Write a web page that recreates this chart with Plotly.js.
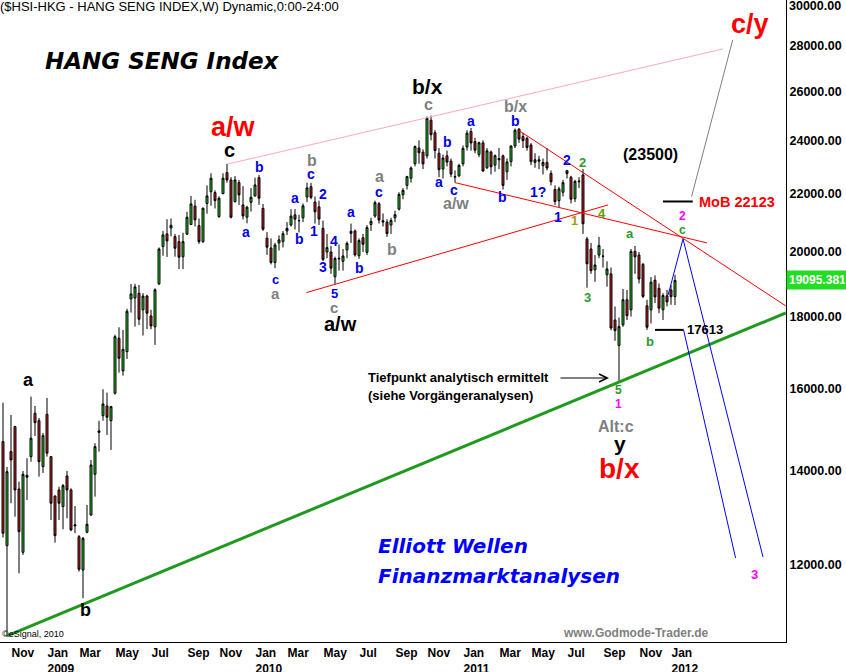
<!DOCTYPE html>
<html><head><meta charset="utf-8">
<script src="https://cdn.plot.ly/plotly-3.0.1.min.js"></script>
<style>html,body{margin:0;padding:0;background:#fff;}#chart{width:846px;height:672px;}</style>
</head><body><div id="chart"></div>
<script>
// ---- weekly bars (Monday of each week) ----
const weeks = [
"2008-10-20","2008-10-27","2008-11-03","2008-11-10","2008-11-17","2008-11-24","2008-12-01","2008-12-08","2008-12-15","2008-12-22","2008-12-29",
"2009-01-05","2009-01-12","2009-01-19","2009-01-26","2009-02-02","2009-02-09","2009-02-16","2009-02-23","2009-03-02","2009-03-09","2009-03-16","2009-03-23","2009-03-30","2009-04-06","2009-04-13","2009-04-20","2009-04-27","2009-05-04","2009-05-11","2009-05-18","2009-05-25","2009-06-01","2009-06-08","2009-06-15","2009-06-22","2009-06-29","2009-07-06","2009-07-13","2009-07-20","2009-07-27","2009-08-03","2009-08-10","2009-08-17","2009-08-24","2009-08-31","2009-09-07","2009-09-14","2009-09-21","2009-09-28","2009-10-05","2009-10-12","2009-10-19","2009-10-26","2009-11-02","2009-11-09","2009-11-16","2009-11-23","2009-11-30","2009-12-07","2009-12-14","2009-12-21","2009-12-28",
"2010-01-04","2010-01-11","2010-01-18","2010-01-25","2010-02-01","2010-02-08","2010-02-15","2010-02-22","2010-03-01","2010-03-08","2010-03-15","2010-03-22","2010-03-29","2010-04-05","2010-04-12","2010-04-19","2010-04-26","2010-05-03","2010-05-10","2010-05-17","2010-05-24","2010-05-31","2010-06-07","2010-06-14","2010-06-21","2010-06-28","2010-07-05","2010-07-12","2010-07-19","2010-07-26","2010-08-02","2010-08-09","2010-08-16","2010-08-23","2010-08-30","2010-09-06","2010-09-13","2010-09-20","2010-09-27","2010-10-04","2010-10-11","2010-10-18","2010-10-25","2010-11-01","2010-11-08","2010-11-15","2010-11-22","2010-11-29","2010-12-06","2010-12-13","2010-12-20","2010-12-27",
"2011-01-03","2011-01-10","2011-01-17","2011-01-24","2011-01-31","2011-02-07","2011-02-14","2011-02-21","2011-02-28","2011-03-07","2011-03-14","2011-03-21","2011-03-28","2011-04-04","2011-04-11","2011-04-18","2011-04-25","2011-05-02","2011-05-09","2011-05-16","2011-05-23","2011-05-30","2011-06-06","2011-06-13","2011-06-20","2011-06-27","2011-07-04","2011-07-11","2011-07-18","2011-07-25","2011-08-01","2011-08-08","2011-08-15","2011-08-22","2011-08-29","2011-09-05","2011-09-12","2011-09-19","2011-09-26","2011-10-03","2011-10-10","2011-10-17","2011-10-24","2011-10-31","2011-11-07","2011-11-14","2011-11-21","2011-11-28","2011-12-05","2011-12-12","2011-12-19","2011-12-26",
"2012-01-02","2012-01-09"];

const openPx = [
14676,12384,14439,15040,13585,12251,13890,14321,15372,15187,14089,
15347,14321,13430,13563,13199,13877,13563,12790,12567,11902,12658,13021,13915,14900,15312,15557,15187,15883,17375,16471,16999,18526,18556,18699,18200,18615,18018,17700,18990,20179,20600,20800,20510,20342,19846,20590,20920,21560,20880,20342,21650,22070,22038,21190,22000,22768,22499,21717,22400,21599,21170,21690,
21915,22580,21475,20456,20130,19660,20300,20350,20700,20900,21250,21050,21150,21880,22250,21700,21530,20790,20000,20000,19210,19800,19700,20070,20620,20700,19880,20470,19990,20920,21210,21640,21050,21000,20900,21150,21450,21960,22300,22560,23100,23700,23540,23400,24800,24300,23500,22900,23400,23200,22600,22650,
23100,23740,24350,23950,23450,23900,22950,23550,23050,23300,23400,22800,23180,23780,24450,24150,24080,23820,23150,23250,23030,23150,22740,22150,21750,22050,22840,22600,21820,22430,22680,20430,20100,19430,19900,19860,19270,19300,17900,17170,17760,18500,18200,20020,19900,19600,18320,18200,19100,18850,18200,18620,
18800,18600];

const highPx = [
15641,14080,15330,15060,13748,13990,14283,15795,15557,15254,14886,
15761,14330,13440,13637,13695,13991,13600,13213,12600,12560,13235,14243,14638,15187,15987,15898,15560,17474,17689,17612,18230,18985,18990,18954,18700,18650,18200,18850,20150,20703,21100,21126,20600,20566,20640,21360,21920,21779,21126,21500,22300,22746,22120,21900,22746,23094,22600,22640,22499,22270,21570,22200,
22580,22683,21630,20660,20450,20300,20550,20700,21000,21450,21450,21250,21650,22400,22388,21900,21750,21050,20600,20200,19850,20250,20100,20350,20950,20750,20450,20600,20900,21150,21750,21700,21300,21100,21150,21400,22050,22200,22650,23000,23800,24000,23650,24950,24988,24400,23700,23450,23600,23300,22850,23100,
23800,24400,24490,24100,23950,24000,23700,23600,23450,23700,23450,23300,23800,24468,24460,24300,24150,23900,23500,23400,23300,23700,22850,22300,22250,22500,22870,22650,22500,22600,22900,20500,20300,19900,20500,20100,19700,19500,18300,17970,18830,18800,20100,20200,20000,19650,18500,19200,19250,19000,18700,18800,
18950,19270];

const lowPx = [
12550,10676,13272,12984,11838,12200,13344,14204,14813,13861,13945,
14321,12914,12445,12914,12720,12951,12680,12637,11870,11365,12637,13000,13416,14439,15187,14837,14478,15850,16426,16345,16797,18117,17707,17756,17452,17640,17630,17186,18950,19875,19840,20520,19850,19450,19450,20590,20920,20850,20270,20300,21290,21570,21475,21150,21980,22400,21126,21680,21599,21090,20960,21365,
21900,21599,20700,19906,19600,19480,20050,20150,20560,20850,20750,20650,21000,21700,21800,20950,20900,19700,19800,19300,18971,19400,19400,19800,20300,19850,19780,20000,19900,20700,21150,20950,20850,20500,20600,21000,21400,21800,22150,22400,23000,23100,22900,23300,24000,23300,22600,22550,23000,22600,22400,22600,
23000,23600,23600,23500,23350,22800,22900,22700,22800,22900,22150,22500,23000,23700,23900,23700,23600,23050,22950,22900,22700,22850,22300,21600,21508,21900,22550,21650,21700,22200,20600,18868,19300,19050,19800,19500,18900,17600,17300,16170,17700,17900,18000,19300,19000,18550,17613,17800,18400,18100,17900,18300,
18350,18340];

const closePx = [
12637,13974,14244,13563,12671,13915,13847,14758,15138,14204,14821,
14401,13272,12588,13272,13659,13563,12706,12811,11916,12535,12824,14128,14556,14934,15607,15272,15539,17420,16817,17065,18157,18678,18893,17922,18612,18100,17727,18805,20100,20568,20366,20893,20125,19831,20342,21169,21635,21077,20342,21484,21919,22561,21752,21838,22561,22499,21169,22499,21955,21215,21518,21873,
22316,21838,20760,20158,19665,20233,20402,20608,20788,21209,21103,21053,21568,22208,21866,21357,21109,19760,20145,19480,19790,19780,19872,20286,20690,19905,20378,20255,20815,21029,21679,21071,21005,20612,21056,21257,21971,22119,22618,22944,23758,23518,23096,24876,24222,23605,22877,23320,23163,22714,22622,23035,
23686,24283,23898,23617,23908,22829,23595,22987,23408,23249,22300,23170,23780,24400,24050,23990,23720,23180,23250,23199,23150,22940,22430,21720,22171,22398,22730,21804,22445,22450,20947,19620,19400,19582,20212,19867,19455,17668,17592,17707,18502,18025,20019,19843,19137,18600,17689,19040,18586,18250,18629,18434,
18593,19095.381];

const lastPrice = 19095.381;

// ---- analysis lines (date, index value) ----
const greenTrendX = ["2008-10-27","2012-07-21"],  greenTrendY = [10690,18108];
const pinkTrendX  = ["2009-11-18","2012-04-02"],  pinkTrendY  = [23093,27864];
const redUpperX   = ["2011-04-12","2012-07-21"],  redUpperY   = [24373,18314];
const redMidX     = ["2010-12-20","2012-03-05"],  redMidY     = [22400,20300];
const redRiseX    = ["2010-04-04","2011-09-14"],  redRiseY    = [18718,21599];
const mobLineX    = ["2011-12-19","2012-02-09"],  mobLineY    = [21720,21720];
const targetX     = ["2012-02-07","2012-04-19"],  targetY     = [21894,28277];
const lowLineX    = ["2011-12-05","2012-01-24"],  lowLineY    = [17613,17613];
const bluePathX   = ["2011-12-28","2012-01-23","2012-06-11"], bluePathY = [18647,20433,12157];
const blueChanX   = ["2012-01-24","2012-04-24"],  blueChanY   = [17613,12138];

// ---- axis ticks ----
const yTicks = [12000,14000,16000,18000,20000,22000,24000,26000,28000];
const yTopTick = 30000;
const yTickText = yTicks.map(v => "<b>" + v.toFixed(2) + "</b>");
const xTicks = ["2008-11-03","2009-01-05","2009-03-02","2009-05-04","2009-07-06","2009-09-07","2009-11-02","2010-01-04","2010-03-01","2010-05-03","2010-07-05","2010-09-06","2010-11-01","2011-01-03","2011-03-07","2011-05-02","2011-07-04","2011-09-05","2011-11-07","2012-01-02"];
const xTickText = ["Nov","Jan<br>2009","Mar","May","Jul","Sep","Nov","Jan<br>2010","Mar","May","Jul","Sep","Nov","Jan<br>2011","Mar","May","Jul","Sep","Nov","Jan<br>2012"].map(t => "<b>" + t.replace("<br>", "</b><br><b>") + "</b>");

const W = 786, H = 642;
const AR = "Liberation Sans, Arial, sans-serif";
const DV = "DejaVu Sans, Verdana, sans-serif";
function A(text, px, py, color, size, opt) {
  return Object.assign({
    text: text, xref: "paper", yref: "paper", x: px / W, y: 1 - py / H,
    xanchor: "center", yanchor: "middle", showarrow: false,
    font: { family: AR, size: size, color: color }
  }, opt || {});
}
const BL = "#0000ee", GR = "#808080", GN = "#2a9a2a", MG = "#ff00ff", RD = "#ff0000", BK = "#000000";
const b = t => "<b>" + t + "</b>";

const annotations = [
  A("($HSI-HKG - HANG SENG INDEX,W) Dynamic,0:00-24:00", 0, 7, BK, 13, { xanchor: "left", xshift: -2 }),
  A("<b><i>HANG SENG Index</i></b>", 162, 61, BK, 23, { font: { family: DV, size: 23, color: BK } }),
  A(b("a/w"), 233, 127, RD, 27),
  A(b("c"), 229, 150, BK, 20),
  A(b("b/x"), 427, 87, BK, 21),
  A(b("c/y"), 750, 24, RD, 27),
  A(b("(23500)"), 650, 154, BK, 16),
  A(b("MoB 22123"), 737, 202, RD, 14.5),
  A(b("17613"), 705, 330, BK, 13),
  A(b("a/w"), 340, 324, BK, 20),
  A(b("Alt:c"), 616, 426, GR, 16),
  A(b("y"), 620, 443, BK, 21),
  A(b("b/x"), 619, 468, RD, 28),
  A(b("a"), 28, 380, BK, 18),
  A(b("b"), 85, 610, BK, 18),
  A(b("Tiefpunkt analytisch ermittelt"), 366, 378, BK, 13, { xanchor: "left" }),
  A(b("(siehe Vorgängeranalysen)"), 366, 395, BK, 13, { xanchor: "left" }),
  A("<b><i>Elliott Wellen</i></b>", 376, 546, "#0000ff", 20, { xanchor: "left", font: { family: DV, size: 20, color: "#0000ff" } }),
  A("<b><i>Finanzmarktanalysen</i></b>", 376, 576, "#0000ff", 20, { xanchor: "left", font: { family: DV, size: 20, color: "#0000ff" } }),
  A(b("www.Godmode-Trader.de"), 711, 633, GR, 12, { xanchor: "right" }),
  A("©eSignal, 2010", 0, 634, BK, 9, { xanchor: "left" }),
  // blue wave labels
  A(b("b"), 259, 167, BL, 14), A(b("a"), 246, 232, BL, 14), A(b("c"), 311, 174, BL, 14),
  A(b("a"), 295, 198, BL, 14), A(b("2"), 323, 194, BL, 14), A(b("b"), 299, 239, BL, 14),
  A(b("1"), 314, 231, BL, 14), A(b("c"), 275, 279, BL, 13), A(b("4"), 334, 241, BL, 14),
  A(b("3"), 323, 267, BL, 14), A(b("a"), 351, 212, BL, 14), A(b("b"), 359, 268, BL, 14),
  A(b("5"), 334, 293, BL, 13), A(b("c"), 379, 192, BL, 14), A(b("a"), 471, 121, BL, 14),
  A(b("b"), 447, 142, BL, 14), A(b("a"), 439, 182, BL, 14), A(b("c"), 454, 190, BL, 14),
  A(b("b"), 515, 121, BL, 14), A(b("2"), 567, 160, BL, 14), A(b("1?"), 538, 192, BL, 14),
  A(b("b"), 502, 197, BL, 14), A(b("1"), 558, 217, BL, 14),
  // grey labels
  A(b("b"), 312, 161, GR, 16), A(b("a"), 275, 293, GR, 15), A(b("c"), 334, 307, GR, 15),
  A(b("a"), 379, 177, GR, 16), A(b("b"), 392, 249, GR, 16), A(b("c"), 428, 105, GR, 16),
  A(b("a/w"), 456, 203, GR, 16), A(b("b/x"), 515, 106, GR, 16),
  // green labels
  A(b("2"), 582, 163, GN, 13), A(b("1"), 574, 220, "#a0a000", 13), A(b("4"), 602, 213, "#5aa000", 13),
  A(b("3"), 587, 297, GN, 13), A(b("a"), 630, 233, GN, 13), A(b("b"), 650, 341, GN, 13),
  A(b("5"), 618, 390, GN, 12), A(b("c"), 682, 230, GN, 12),
  // magenta labels
  A(b("2"), 682, 216, MG, 12), A(b("1"), 618, 404, MG, 12), A(b("3"), 754, 574, MG, 13),
  // arrow
  { xref: "paper", yref: "paper", x: 609 / W, y: 1 - 378 / H, ax: -50, ay: 0, axref: "pixel", ayref: "pixel",
    text: "", showarrow: true, arrowhead: 5, arrowsize: 1.6, arrowwidth: 1, arrowcolor: BK },
  // top y tick label (would be clipped as an axis tick)
  { xref: "paper", yref: "paper", x: 1, y: 1 - 6 / H, xanchor: "left", yanchor: "middle", xshift: 1,
    text: b(yTopTick.toFixed(2)), showarrow: false, font: { family: AR, size: 12.5, color: BK } },
  // last price box
  { xref: "paper", yref: "y", x: 1, y: Math.log10(lastPrice), xanchor: "left", yanchor: "middle",
    text: b(lastPrice.toFixed(3)), showarrow: false, bgcolor: "#22dd22", borderpad: 2, width: 56, align: "left",
    font: { family: AR, size: 12, color: "#ffffff" } }
];

function line(x, y, color, width) {
  return { type: "scatter", mode: "lines", x: x, y: y, line: { color: color, width: width }, hoverinfo: "skip", showlegend: false };
}

const traces = [
  { type: "candlestick", x: weeks, open: openPx, high: highPx, low: lowPx, close: closePx,
    increasing: { line: { color: "#000000", width: 1 }, fillcolor: "#22cc22" },
    decreasing: { line: { color: "#000000", width: 1 }, fillcolor: "#cc2222" },
    whiskerwidth: 0, showlegend: false, hoverinfo: "skip" },
  line(pinkTrendX, pinkTrendY, "#ffa6c9", 1),
  line(greenTrendX, greenTrendY, "#1f9a1f", 3),
  line(redUpperX, redUpperY, "#ff0000", 1),
  line(redMidX, redMidY, "#ff0000", 1),
  line(redRiseX, redRiseY, "#ff0000", 1),
  line(targetX, targetY, "#808080", 1),
  line(mobLineX, mobLineY, "#000000", 2),
  line(lowLineX, lowLineY, "#000000", 2),
  line(bluePathX, bluePathY, "#0000ff", 1),
  line(blueChanX, blueChanY, "#0000ff", 1)
];

const layout = {
  width: 846, height: 672,
  margin: { l: 0, r: 60, t: 0, b: 30, autoexpand: false },
  paper_bgcolor: "#ffffff", plot_bgcolor: "#ffffff",
  showlegend: false, hovermode: false,
  xaxis: {
    type: "date", range: ["2008-10-14 18:00", "2012-07-21 06:00"],
    rangeslider: { visible: false },
    tickmode: "array", tickvals: xTicks, ticktext: xTickText,
    tickangle: 0, ticklabelposition: "outside right", ticklabeloverflow: "allow",
    tickfont: { family: AR, size: 12, color: "#000" },
    ticks: "", showgrid: false, zeroline: false,
    showline: true, linecolor: "#000", linewidth: 1
  },
  yaxis: {
    type: "log", side: "right",
    range: [Math.log10(10582), Math.log10(30179)],
    tickmode: "array", tickvals: yTicks, ticktext: yTickText,
    tickfont: { family: AR, size: 12.5, color: "#000" },
    ticks: "", showgrid: false, zeroline: false,
    showline: true, linecolor: "#000", linewidth: 1
  },
  annotations: annotations
};

Plotly.newPlot("chart", traces, layout, { staticPlot: true, displayModeBar: false });
</script>
</body></html>
